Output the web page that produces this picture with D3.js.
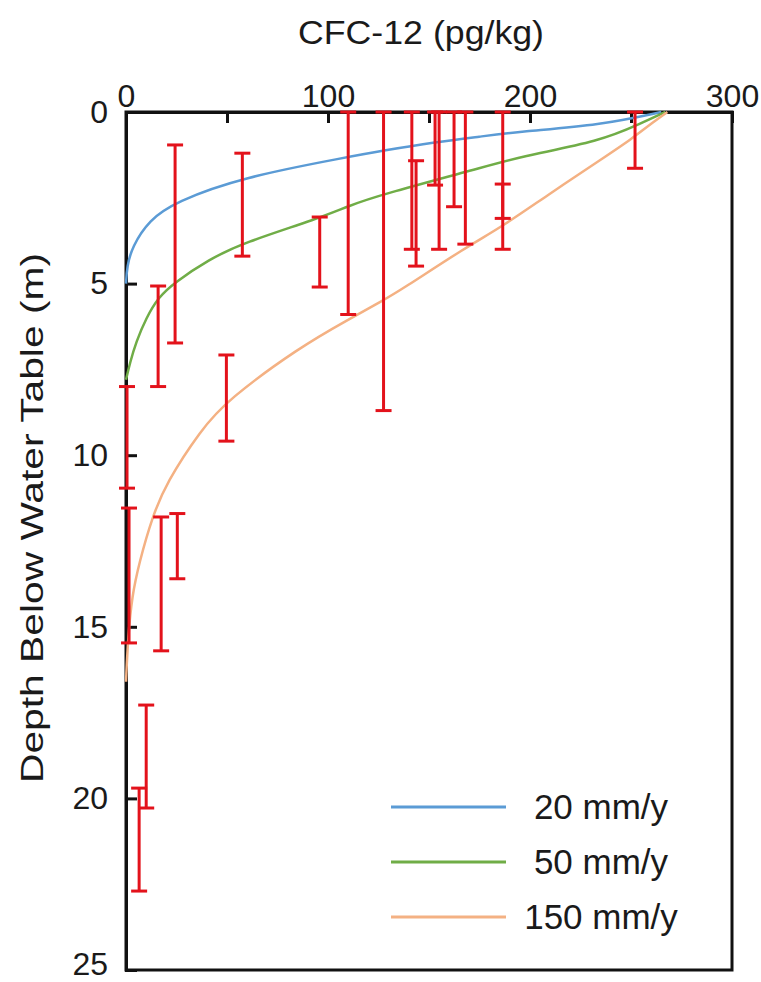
<!DOCTYPE html>
<html>
<head>
<meta charset="utf-8">
<script src="https://cdn.jsdelivr.net/npm/d3@7"></script>
<style>
  body { margin: 0; background: #fff; }
  text { font-family: "Liberation Sans", Arial, sans-serif; fill: #1a1a1a; }
</style>
</head>
<body>
<script>
// measured samples: [x = CFC-12 pg/kg, top depth m, bottom depth m]
var samples = [
    [24.3, 0.96, 6.73], [57.6, 1.2, 4.2], [95.9, 3.06, 5.1], [110, 0, 5.9],
    [15.9, 5.07, 8.0], [127.5, 0, 8.7], [141.5, 0, 4.0], [143.6, 1.42, 4.49],
    [153, 0, 2.13], [155, 0, 4.0], [162.4, 0, 2.76], [168, 0, 3.85],
    [186.5, 0, 3.1], [186.5, 2.1, 4.0], [252, 0, 1.64], [0.5, 8.0, 10.96],
    [49.7, 7.08, 9.59], [1.5, 11.54, 15.47], [17.4, 11.8, 15.7], [25.4, 11.7, 13.6],
    [10, 17.28, 20.28], [6.5, 19.7, 22.7]
];

// model curves, [conc, depth]
var curve20 = [[265, 0], [235, 0.38], [195, 0.57], [175, 0.72], [154, 0.87], [125.7, 1.14],
    [110, 1.31], [57.6, 1.9], [24.3, 2.62], [11.4, 3.15], [3, 3.93], [0.5, 4.5], [0, 5.0]];
var curve50 = [[267, 0], [255, 0.33], [235, 0.85], [195, 1.3], [175, 1.64], [125.7, 2.42],
    [110, 2.74], [96, 3.09], [57.6, 3.82], [41, 4.3], [24, 4.97], [16, 5.4],
    [10, 6.0], [5, 6.7], [2, 7.3], [0, 7.8]];
var curve150 = [[268, 0], [262, 0.25], [250, 0.8], [236, 1.35], [208, 2.45], [186, 3.35],
    [168, 3.95], [136, 5.19], [127, 5.5], [110, 6.05], [86, 6.85], [50, 8.4], [37, 9.27],
    [20, 10.8], [13, 11.8], [6.5, 13.14], [3, 14.1], [1, 15.3], [0, 16.6]];

var seriesNames = ["20 mm/y", "50 mm/y", "150 mm/y"];
var seriesColors = ["#5b9bd5", "#70ad47", "#f4b183"];
var xTicks = [0, 50, 100, 150, 200, 250, 300];
var yTicks = [0, 5, 10, 15, 20, 25];

var W = 761, H = 982;
var margin = {top: 112, right: 29, bottom: 12, left: 126},
    width = W - margin.left - margin.right,
    height = H - margin.top - margin.bottom;

var x = d3.scaleLinear().domain([0, 300]).range([0, width]);
var y = d3.scaleLinear().domain([0, 25]).range([0, height]);

var svg = d3.select("body").append("svg")
    .attr("width", W)
    .attr("height", H)
  .append("g")
    .attr("transform", "translate(" + margin.left + "," + margin.top + ")");

// frame (right + bottom sides)
svg.append("rect")
    .attr("width", width)
    .attr("height", height)
    .attr("fill", "none")
    .attr("stroke", "#111")
    .attr("stroke-width", 3);

// x axis on top, ticks pointing in
var xAxis = svg.append("g")
    .call(d3.axisTop(x).tickValues(xTicks).tickSize(-11).tickPadding(5)
        .tickFormat(function(d) { return d % 100 === 0 ? d : ""; }));

// y axis, depth downwards
var yAxis = svg.append("g")
    .call(d3.axisLeft(y).tickValues(yTicks).tickSize(-11).tickPadding(18));

[xAxis, yAxis].forEach(function(a) {
    a.select(".domain").attr("stroke", "#111").attr("stroke-width", 3);
    a.selectAll(".tick line").attr("stroke", "#111").attr("stroke-width", 3);
    a.selectAll(".tick text").style("font-size", "32px").attr("fill", "#1a1a1a");
});
// keep the last label inside the picture
yAxis.selectAll(".tick text").filter(function(d) { return d === 25; }).attr("dy", "0.15em");

// model lines
var line = d3.line()
    .x(function(d) { return x(d[0]); })
    .y(function(d) { return y(d[1]); })
    .curve(d3.curveBasis);

[curve20, curve50, curve150].forEach(function(c, i) {
    svg.append("path")
        .datum(c)
        .attr("fill", "none")
        .attr("stroke", seriesColors[i])
        .attr("stroke-width", 2.5)
        .attr("d", line);
});

// error bars
var red = "#e3121b", cap = 8;
var bars = svg.selectAll(".ebar")
    .data(samples)
  .enter().append("g")
    .attr("class", "ebar")
    .attr("stroke", red)
    .attr("stroke-width", 3);

bars.append("line")
    .attr("x1", function(d) { return x(d[0]); })
    .attr("x2", function(d) { return x(d[0]); })
    .attr("y1", function(d) { return y(d[1]); })
    .attr("y2", function(d) { return y(d[2]); });

bars.append("line")
    .attr("x1", function(d) { return x(d[0]) - cap; })
    .attr("x2", function(d) { return x(d[0]) + cap; })
    .attr("y1", function(d) { return y(d[1]); })
    .attr("y2", function(d) { return y(d[1]); });

bars.append("line")
    .attr("x1", function(d) { return x(d[0]) - cap; })
    .attr("x2", function(d) { return x(d[0]) + cap; })
    .attr("y1", function(d) { return y(d[2]); })
    .attr("y2", function(d) { return y(d[2]); });

// legend
var legend = svg.selectAll(".legend")
    .data(seriesNames)
  .enter().append("g")
    .attr("class", "legend")
    .attr("transform", function(d, i) { return "translate(0," + (695 + i * 55) + ")"; });

legend.append("line")
    .attr("x1", 265).attr("x2", 380)
    .attr("stroke", function(d, i) { return seriesColors[i]; })
    .attr("stroke-width", 3);

legend.append("text")
    .attr("x", 475)
    .attr("y", 12)
    .style("text-anchor", "middle")
    .style("font-size", "35px")
    .text(function(d) { return d; });

// titles
svg.append("text")
    .attr("x", 421 - margin.left)
    .attr("y", -68)
    .style("text-anchor", "middle")
    .style("font-size", "33px")
    .attr("textLength", 246)
    .attr("lengthAdjust", "spacingAndGlyphs")
    .text("CFC-12 (pg/kg)");

svg.append("text")
    .attr("transform", "translate(" + (43 - margin.left) + "," + (518 - margin.top) + ") rotate(-90)")
    .style("text-anchor", "middle")
    .style("font-size", "31px")
    .attr("textLength", 530)
    .attr("lengthAdjust", "spacingAndGlyphs")
    .text("Depth Below Water Table (m)");
</script>
</body>
</html>
